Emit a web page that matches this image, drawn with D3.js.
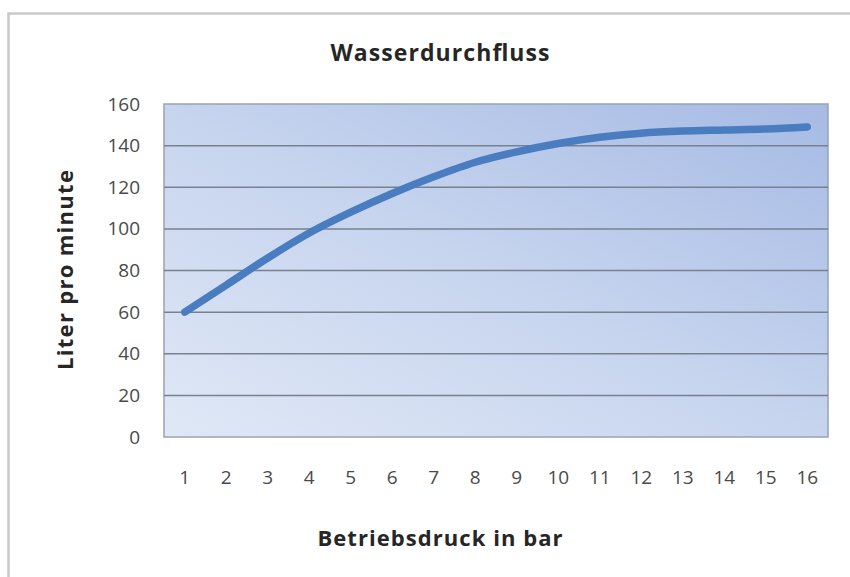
<!DOCTYPE html>
<html>
<head>
<meta charset="utf-8">
<script src="https://cdn.jsdelivr.net/npm/d3@7"></script>
<style>
  body { margin: 0; background: #fff; }
  text { font-family: "Open Sans", sans-serif; }
</style>
</head>
<body>
<svg class="chart"></svg>
<script>
// DATA /////////////////////////////////////////
const pressure = ["1","2","3","4","5","6","7","8","9","10","11","12","13","14","15","16"];
const flow = [60, 73, 86, 98, 108, 117, 125, 132, 137, 141, 144, 146, 147, 147.5, 148, 149];
const yTicks = [0, 20, 40, 60, 80, 100, 120, 140, 160];

// DEFINITIONS //////////////////////////////////
const W = 850, H = 577;
const margin = { top: 104, bottom: 140, right: 22, left: 164 };
const width = W - margin.left - margin.right;
const height = H - margin.top - margin.bottom;

const svg = d3.select(".chart").attr("width", W).attr("height", H);

// outer chart frame
svg.append("rect")
  .attr("x", 8.5).attr("y", 13.5)
  .attr("width", 900).attr("height", 700)
  .attr("fill", "none")
  .attr("stroke", "#c9c9c9")
  .attr("stroke-width", 2.5);

const defs = svg.append("defs");
const grad = defs.append("linearGradient")
  .attr("id", "bg")
  .attr("x1", "0%").attr("y1", "100%")
  .attr("x2", "100%").attr("y2", "0%");
grad.append("stop").attr("offset", "0%").attr("stop-color", "#e0e8f6");
grad.append("stop").attr("offset", "50%").attr("stop-color", "#c6d4ee");
grad.append("stop").attr("offset", "100%").attr("stop-color", "#a6bae4");

const chartG = svg.append("g")
  .attr("transform", `translate(${margin.left}, ${margin.top})`);

// SCALES ///////////////////////////////////////
const x = d3.scaleBand().domain(pressure).range([0, width]);
const y = d3.scaleLinear().domain([0, 160]).range([height, 0]);

// plot background
chartG.append("rect")
  .attr("width", width).attr("height", height)
  .attr("fill", "url(#bg)")
  .attr("stroke", "#9aa3b0")
  .attr("stroke-width", 1.5);

// gridlines
chartG.selectAll(".grid")
  .data(yTicks.slice(1, -1))
  .join("line")
  .attr("class", "grid")
  .attr("x1", 0).attr("x2", width)
  .attr("y1", d => y(d)).attr("y2", d => y(d))
  .attr("stroke", "#77818f")
  .attr("stroke-width", 1.5);

// axes
const yAxis = d3.axisLeft(y).tickValues(yTicks).tickSize(0).tickPadding(24);
chartG.append("g").call(yAxis)
  .call(g => g.select(".domain").remove())
  .selectAll("text")
  .attr("font-size", 19)
  .attr("fill", "#4a4a4a");

const xAxis = d3.axisBottom(x).tickSize(0).tickPadding(34);
chartG.append("g")
  .attr("transform", `translate(0, ${height})`)
  .call(xAxis)
  .call(g => g.select(".domain").remove())
  .selectAll("text")
  .attr("font-size", 19)
  .attr("fill", "#4a4a4a");

// line
const line = d3.line()
  .x((d, i) => x(pressure[i]) + x.bandwidth() / 2)
  .y(d => y(d))
  .curve(d3.curveCatmullRom);

chartG.append("path")
  .datum(flow)
  .attr("d", line)
  .attr("fill", "none")
  .attr("stroke", "#4a7dbf")
  .attr("stroke-width", 7.5)
  .attr("stroke-linecap", "round");

// TITLES ///////////////////////////////////////
svg.append("text")
  .attr("x", 440).attr("y", 61)
  .attr("text-anchor", "middle")
  .attr("font-size", 23).attr("font-weight", "bold")
  .attr("fill", "#262626")
  .attr("textLength", 219)
  .text("Wasserdurchfluss");

svg.append("text")
  .attr("x", 440).attr("y", 546)
  .attr("text-anchor", "middle")
  .attr("font-size", 22).attr("font-weight", "bold")
  .attr("fill", "#262626")
  .attr("textLength", 245)
  .text("Betriebsdruck in bar");

svg.append("text")
  .attr("transform", "translate(73, 270) rotate(-90)")
  .attr("text-anchor", "middle")
  .attr("font-size", 22).attr("font-weight", "bold")
  .attr("fill", "#262626")
  .attr("textLength", 200)
  .text("Liter pro minute");
</script>
</body>
</html>
